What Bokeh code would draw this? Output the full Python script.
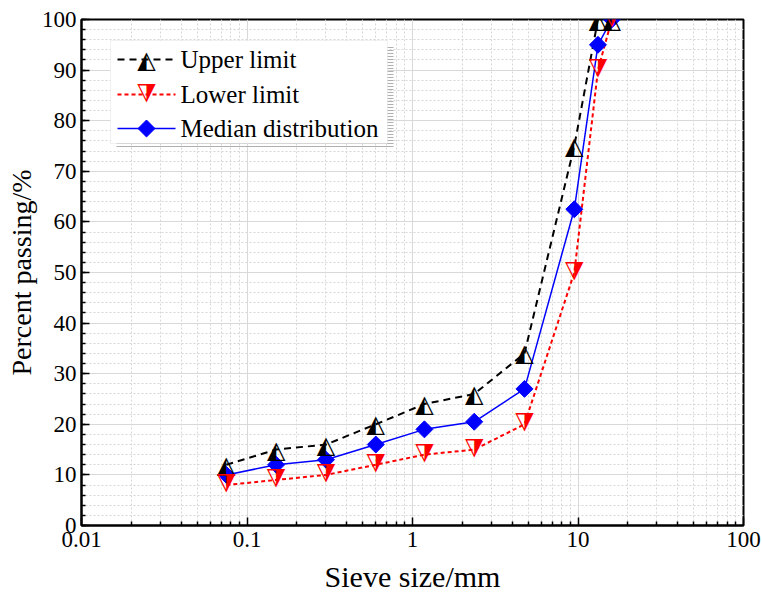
import math
from bokeh.plotting import figure
from bokeh.models import FixedTicker, SingleIntervalTicker, CustomJSTickFormatter, BoxAnnotation, Label
from bokeh.core.properties import value
from bokeh.embed import file_html
from bokeh.resources import INLINE

# ---- data ----
sieve_sizes = [0.075, 0.15, 0.3, 0.6, 1.18, 2.36, 4.75, 9.5, 13.2, 16]
upper_limit = [12, 15, 16, 20, 24, 26, 34, 75, 100, 100]
lower_limit = [8, 9, 10, 12, 14, 15, 20, 50, 90, 100]
median_dist = [10, 12, 13, 16, 19, 20.5, 27, 62.5, 95, 100]
x_major_ticks = [0.01, 0.1, 1, 10, 100]
series_names = ["Upper limit", "Lower limit", "Median distribution"]

SERIF = "Liberation Serif"
SYM = "DejaVu Sans"
TRI_SIZE = "24px"
DIA_SIZE = 12

# frame geometry (pixels)
FL, FR, FT, FB = 81, 743, 19, 525
W, H = 762, 598

p = figure(width=W, height=H, x_axis_type="log", x_range=(0.01, 100), y_range=(0, 100),
           output_backend="svg", toolbar_location=None,
           min_border_left=FL, min_border_right=W - FR, min_border_top=FT, min_border_bottom=H - FB)

def px2x(px):
    return 10 ** (-2 + 4 * (px - FL) / (FR - FL))

def py2y(py):
    return 100 * (FB - py) / (FB - FT)

# axes
p.xaxis.ticker = FixedTicker(ticks=x_major_ticks,
                             minor_ticks=[m * 10 ** k for k in range(-2, 2) for m in range(2, 10)])
p.xaxis.formatter = CustomJSTickFormatter(code="return tick.toString();")
p.yaxis.ticker = SingleIntervalTicker(interval=10, num_minor_ticks=5)

for ax in (p.xaxis[0], p.yaxis[0]):
    ax.axis_line_width = 2
    ax.axis_line_color = "black"
    ax.major_tick_in = 8
    ax.major_tick_out = 0
    ax.minor_tick_in = 4
    ax.minor_tick_out = 0
    ax.major_tick_line_width = 1.5
    ax.minor_tick_line_width = 1.5
    ax.major_tick_line_color = "black"
    ax.minor_tick_line_color = "black"
    ax.major_label_text_font = SERIF
    ax.major_label_text_font_size = "23px"
    ax.major_label_text_color = "black"
    ax.axis_label_text_font = SERIF
    ax.axis_label_text_font_style = "normal"
    ax.axis_label_text_color = "black"

p.xaxis.axis_label = "Sieve size/mm"
p.yaxis.axis_label = "Percent passing/%"
p.xaxis.axis_label_text_font_size = "30px"
p.yaxis.axis_label_text_font_size = "28px"
p.xaxis.major_label_standoff = 6
p.yaxis.major_label_standoff = 5
p.xaxis.axis_label_standoff = 10
p.yaxis.axis_label_standoff = 2

for g in (p.xgrid[0], p.ygrid[0]):
    g.grid_line_color = "#d9d9d9"
    g.grid_line_width = 1
    g.minor_grid_line_color = "#d6d6d6"
    g.minor_grid_line_dash = "2 2"
    g.minor_grid_line_width = 1

p.outline_line_color = "black"
p.outline_line_width = 2
p.background_fill_color = "white"
p.border_fill_color = "white"

# lines
p.line(sieve_sizes, upper_limit, line_color="black", line_width=2, line_dash="7 5")
p.line(sieve_sizes, lower_limit, line_color="red", line_width=2, line_dash="4 3")
p.line(sieve_sizes, median_dist, line_color="blue", line_width=1.5)

# markers
p.scatter(sieve_sizes, median_dist, marker="square", angle=math.pi / 4, size=DIA_SIZE,
          fill_color="blue", line_color="blue")
p.text(sieve_sizes, upper_limit, text=["\u25ed"] * len(sieve_sizes), text_font=value(SYM),
       text_font_size=TRI_SIZE, text_color="black", text_align="center", text_baseline="middle")
p.text(sieve_sizes, lower_limit, text=["\u25ed"] * len(sieve_sizes), text_font=value(SYM),
       text_font_size=TRI_SIZE, text_color="red", text_align="center", text_baseline="middle",
       angle=math.pi)

# ---- manual legend ----
bx0, bx1, by0, by1 = 110, 387, 40, 143
p.add_layout(BoxAnnotation(left=px2x(bx0 + 6), right=px2x(bx1 + 6), top=py2y(by0 + 6), bottom=py2y(by1 + 5),
                           fill_alpha=0, line_alpha=0, hatch_pattern="horizontal_line",
                           hatch_color="#b0b0b0", hatch_scale=3, hatch_weight=1, level="glyph"))
p.add_layout(BoxAnnotation(left=px2x(bx0), right=px2x(bx1), top=py2y(by0), bottom=py2y(by1),
                           fill_color="white", fill_alpha=1, line_color="#d0d0d0", line_width=1,
                           level="glyph"))

rows = [59, 94, 128]
lx0, lx1, mx, tx = 117, 175, 146, 180
styles = [dict(line_color="black", line_width=2, line_dash="7 5"),
          dict(line_color="red", line_width=2, line_dash="4 3"),
          dict(line_color="blue", line_width=1.5)]
for i, (ry, st) in enumerate(zip(rows, styles)):
    r = p.segment(x0=[px2x(lx0)], y0=[py2y(ry)], x1=[px2x(lx1)], y1=[py2y(ry)], **st)
    r.level = "overlay"
    p.add_layout(Label(x=px2x(tx), y=py2y(ry), text=series_names[i], text_font=SERIF,
                       text_font_size="25px", text_color="black", text_baseline="middle",
                       level="overlay"))

m1 = p.scatter([px2x(mx)], [py2y(rows[2])], marker="square", angle=math.pi / 4, size=DIA_SIZE,
               fill_color="blue", line_color="blue")
m1.level = "overlay"
m2 = p.text([px2x(mx)], [py2y(rows[0])], text=["\u25ed"], text_font=value(SYM), text_font_size=TRI_SIZE,
            text_color="black", text_align="center", text_baseline="middle")
m2.level = "overlay"
m3 = p.text([px2x(mx)], [py2y(rows[1])], text=["\u25ed"], text_font=value(SYM), text_font_size=TRI_SIZE,
            text_color="red", text_align="center", text_baseline="middle", angle=math.pi)
m3.level = "overlay"

open("out.html", "w").write(file_html(p, INLINE))
